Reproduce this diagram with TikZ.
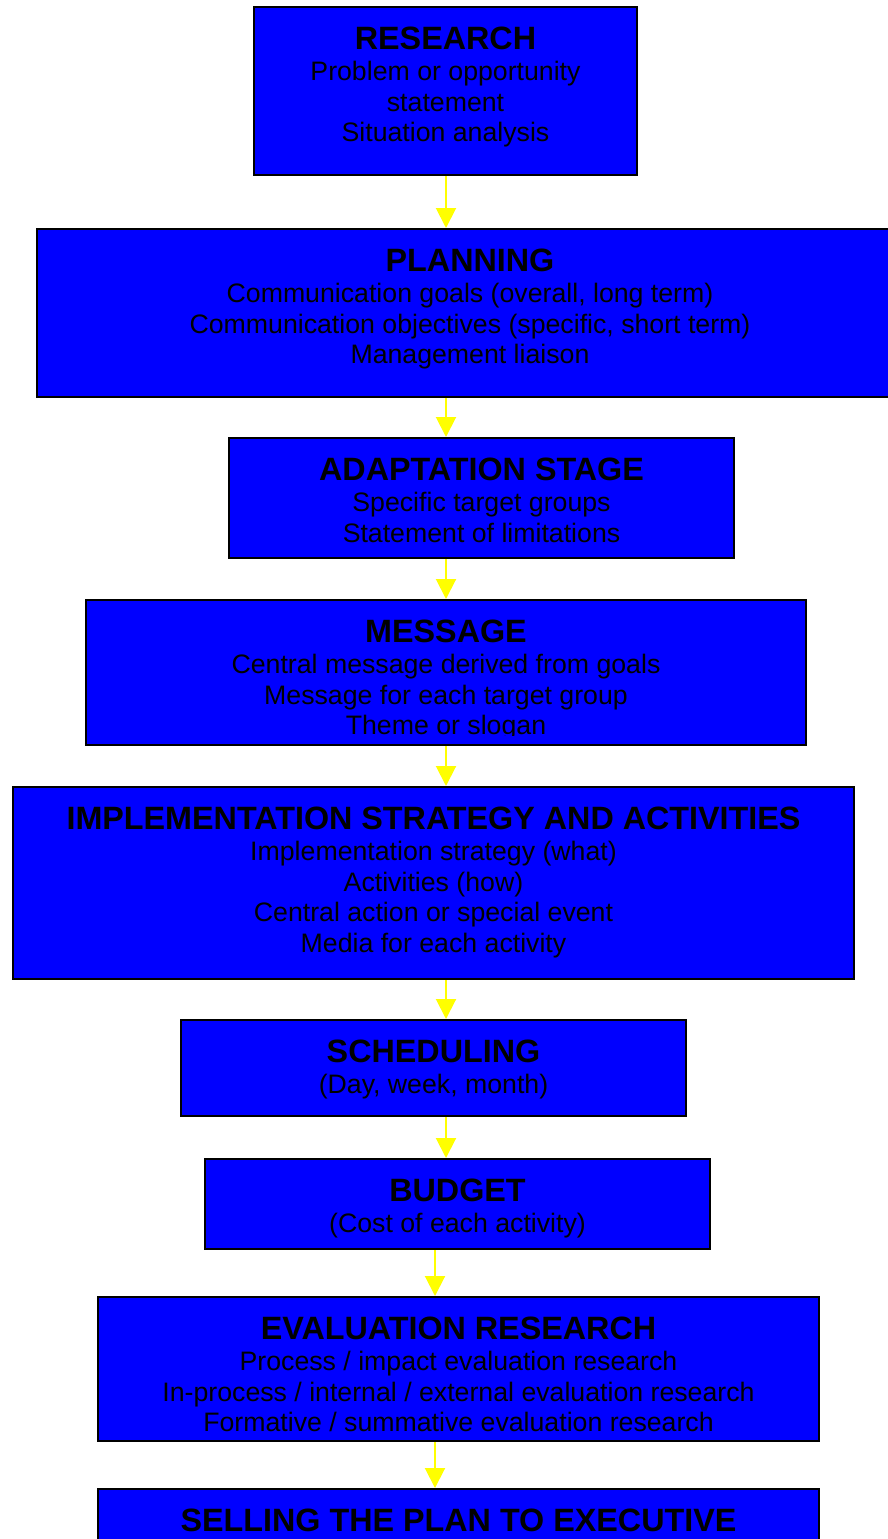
\documentclass[tikz,border=0pt]{standalone}
\usepackage{fontspec}
\setmainfont{Liberation Sans}
\usetikzlibrary{arrows.meta,calc}

\definecolor{stageblue}{RGB}{0,0,255}
\definecolor{flowyellow}{RGB}{255,255,0}

% type sizes: bold stage titles and plain detail lines, one common line pitch
\newcommand\stagetitle{\fontsize{32.3}{30.9}\selectfont\bfseries}
\newcommand\stagebody{\fontsize{26.7}{30.9}\selectfont}

\tikzset{
  stagebox/.style={draw=black, line width=2pt, fill=stageblue, inner sep=0pt},
  stagetext/.style={anchor=north, inner sep=0pt, align=center, text=black, font=\stagebody},
  flow/.style={draw=flowyellow, line width=2pt, -{Triangle[width=20pt,length=20pt]}}
}

\begin{document}
\begin{tikzpicture}[x=1pt,y=-1pt]
  \useasboundingbox (0,0) rectangle (888,1539);
  \clip (0,0) rectangle (888,1539);

  % columns along which the flow arrows run
  \coordinate (upperaxis) at (446,0);
  \coordinate (loweraxis) at (435,0);

  % stage boxes
  \node[stagebox, minimum width=383pt, minimum height=168pt] (research)       at (445.5,91)    {};
  \node[stagebox, minimum width=866pt, minimum height=168pt] (planning)       at (470,313)     {};
  \node[stagebox, minimum width=505pt, minimum height=120pt] (adaptation)     at (481.5,498)   {};
  \node[stagebox, minimum width=720pt, minimum height=145pt] (message)        at (446,672.5)   {};
  \node[stagebox, minimum width=841pt, minimum height=192pt] (implementation) at (433.5,883)   {};
  \node[stagebox, minimum width=505pt, minimum height=96pt]  (scheduling)     at (433.5,1068)  {};
  \node[stagebox, minimum width=505pt, minimum height=90pt]  (budget)         at (457.5,1204)  {};
  \node[stagebox, minimum width=721pt, minimum height=144pt] (evaluation)     at (458.5,1369)  {};
  \node[stagebox, minimum width=721pt, minimum height=111pt] (selling)        at (458.5,1544.5){};

  % stage texts, set from the top edge of each box
  \node[stagetext] (researchtext) at ($(research.north)+(0,20.5)$)
    {{\stagetitle RESEARCH}\\Problem or opportunity\\statement\\Situation analysis};
  \node[stagetext] (planningtext) at ($(planning.north)+(0,20.5)$)
    {{\stagetitle PLANNING}\\Communication goals (overall, long term)\\Communication objectives (specific, short term)\\Management liaison};
  \node[stagetext] (adaptationtext) at ($(adaptation.north)+(0,20.5)$)
    {{\stagetitle ADAPTATION STAGE}\\Specific target groups\\Statement of limitations};
  \begin{scope}
    \clip (message.north west) rectangle ([yshift=11pt]message.south east);
    \node[stagetext] (messagetext) at ($(message.north)+(0,20.5)$)
      {{\stagetitle MESSAGE}\\Central message derived from goals\\Message for each target group\\Theme or slogan};
  \end{scope}
  \node[stagetext] (implementationtext) at ($(implementation.north)+(0,20.5)$)
    {{\stagetitle IMPLEMENTATION STRATEGY AND ACTIVITIES}\\Implementation strategy (what)\\Activities (how)\\Central action or special event\\Media for each activity};
  \node[stagetext] (schedulingtext) at ($(scheduling.north)+(0,20.5)$)
    {{\stagetitle SCHEDULING}\\(Day, week, month)};
  \node[stagetext] (budgettext) at ($(budget.north)+(0,20.5)$)
    {{\stagetitle BUDGET}\\(Cost of each activity)};
  \node[stagetext] (evaluationtext) at ($(evaluation.north)+(0,20.5)$)
    {{\stagetitle EVALUATION RESEARCH}\\Process / impact evaluation research\\In-process / internal / external evaluation research\\Formative / summative evaluation research};
  \node[stagetext] (sellingtext) at ($(selling.north)+(0,20.5)$)
    {{\stagetitle SELLING THE PLAN TO EXECUTIVE}};

  % flow arrows between consecutive stages
  \draw[flow] (research.south -| upperaxis)       -- (planning.north -| upperaxis);
  \draw[flow] (planning.south -| upperaxis)       -- (adaptation.north -| upperaxis);
  \draw[flow] (adaptation.south -| upperaxis)     -- (message.north -| upperaxis);
  \draw[flow] (message.south -| upperaxis)        -- (implementation.north -| upperaxis);
  \draw[flow] (implementation.south -| upperaxis) -- (scheduling.north -| upperaxis);
  \draw[flow] (scheduling.south -| upperaxis)     -- (budget.north -| upperaxis);
  \draw[flow] (budget.south -| loweraxis)         -- (evaluation.north -| loweraxis);
  \draw[flow] (evaluation.south -| loweraxis)     -- (selling.north -| loweraxis);
\end{tikzpicture}
\end{document}
